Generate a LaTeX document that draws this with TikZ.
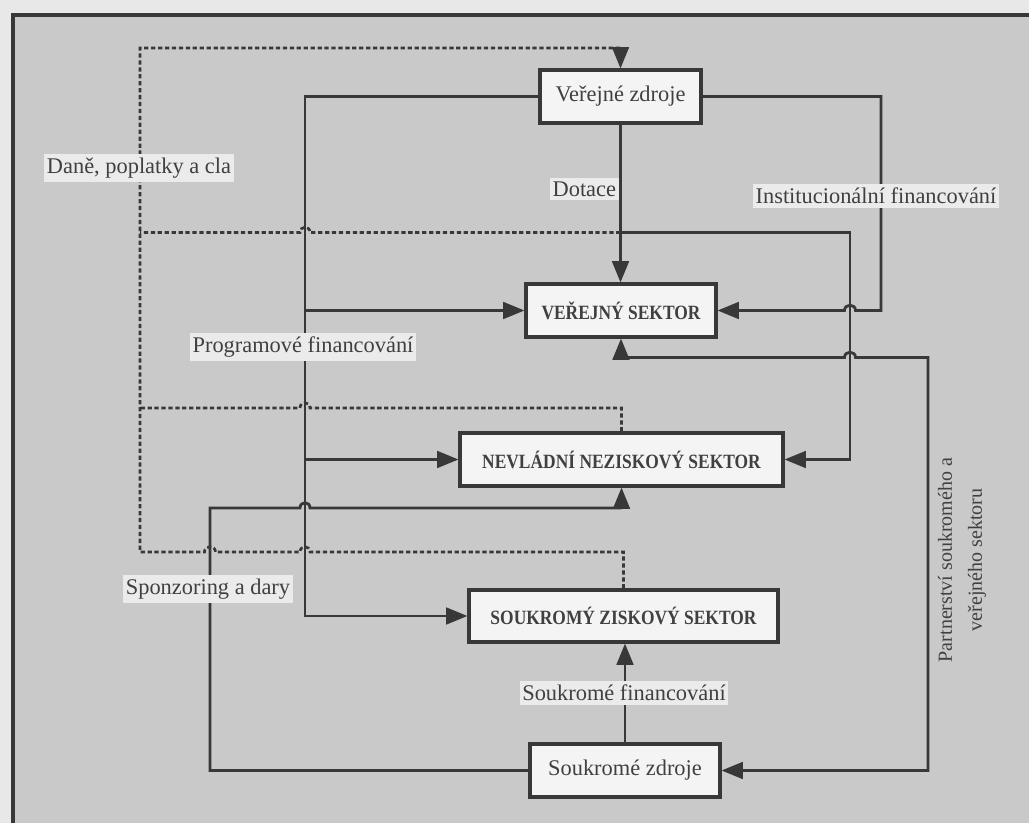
\documentclass[tikz,border=0pt]{standalone}
\usepackage{fontspec}
\setmainfont{Liberation Serif}
\newfontfamily\bcond[FakeStretch=0.86]{Liberation Serif Bold}
\usetikzlibrary{arrows.meta}
\definecolor{pagebg}{HTML}{C9C9C9}
\definecolor{outerbg}{HTML}{E8E8E8}
\definecolor{linec}{HTML}{383838}
\definecolor{boxbg}{HTML}{F4F4F4}
\definecolor{labbg}{HTML}{EBEBEB}
\definecolor{txt}{HTML}{404040}
\begin{document}
\begin{tikzpicture}[x=0.75pt,y=-0.75pt,
  ln/.style={draw=linec, line width=2.1pt},
  arr/.style={ln,-{Triangle[length=16pt,width=12.5pt]}},
  darr/.style={ln,{Triangle[length=16pt,width=12.5pt]}-{Triangle[length=16pt,width=12.5pt]}},
  dsh/.style={draw=linec, line width=2pt, dash pattern=on 3.2pt off 2pt},
  box/.style={draw=linec, line width=2.3pt, fill=boxbg, inner sep=0pt, text=txt, font=\fontsize{16.8}{19}\selectfont},
  bbox/.style={box, font=\fontsize{15.2}{17}\bcond},
  lab/.style={fill=labbg, text=txt, inner xsep=2pt, inner ysep=3pt, font=\fontsize{16.8}{19}\selectfont}]
\useasboundingbox (0,0) rectangle (1029,823);
\fill[outerbg] (0,0) rectangle (1029,823);
\fill[pagebg] (13,15) rectangle (1029,823);
\draw[linec, line width=2.3pt] (13,823) -- (13,15) -- (1029,15);

% boxes
\node[box, minimum width=161*0.75pt, minimum height=53*0.75pt] (vz) at (620.5,96.5) {Veřejné zdroje};
\node[bbox, minimum width=190*0.75pt, minimum height=53*0.75pt] (vs) at (621,310.5) {VEŘEJNÝ SEKTOR};
\node[bbox, minimum width=323*0.75pt, minimum height=53*0.75pt] (nns) at (621.5,459.5) {NEVLÁDNÍ NEZISKOVÝ SEKTOR};
\node[bbox, minimum width=309*0.75pt, minimum height=52*0.75pt] (szs) at (623.5,616) {SOUKROMÝ ZISKOVÝ SEKTOR};
\node[box, minimum width=190*0.75pt, minimum height=53*0.75pt] (sz) at (625,770.5) {Soukromé zdroje};

% junction coordinates
\coordinate (jd) at (620.5,232.5);
\coordinate (jp1) at (305,310.5);
\coordinate (jp2) at (305,459.5);

% dashed: taxes
\draw[dsh,-{Triangle[length=16pt,width=12.5pt]}] (szs.north) |- (310,552)
  .. controls (310,545) and (300,545) .. (300,552) -- (215.5,552)
  .. controls (215.5,545) and (204.5,545) .. (204.5,552) -- (140,552)
  -- (140,48) -| (vz.north);
\draw[dsh] (nns.north) |- (310,408)
  .. controls (310,401) and (300,401) .. (300,408) -- (140,408);
\draw[dsh] (jd) -- (310,232.5)
  .. controls (310,225.5) and (300,225.5) .. (300,232.5) -- (140,232.5);

% Dotace
\draw[arr] (vz.south) -- (vz.south |- vs.north);
\draw[arr] (jd) -- (850,232.5) |- (nns.east);

% Institucionalni
\draw[arr] (vz.east) -- (881,96.5) -- (881,310.5) -- (855.5,310.5)
  .. controls (855.5,303.5) and (844.5,303.5) .. (844.5,310.5) -- (vs.east);

% Partnerstvi
\draw[darr] (vs.south) |- (844.5,357.5)
  .. controls (844.5,350.5) and (855.5,350.5) .. (855.5,357.5) -- (928,357.5) |- (sz.east);

% Programove
\draw[arr] (vz.west) -- (305,96.5) |- (szs.west);
\draw[arr] (jp1) -- (vs.west);
\draw[arr] (jp2) -- (nns.west);

% Sponzoring
\draw[arr] (sz.west) -- (210,770.5) -- (210,508) -- (300,508)
  .. controls (300,501) and (310,501) .. (310,508) -| (nns.south);

% Soukrome financovani
\draw[arr] (sz.north) -- (sz.north |- szs.south);

% labels
\node[lab] (l1) at (139,168) {Daně, poplatky a cla};
\node[lab, anchor=east] (l2) at (619,189) {Dotace};
\node[lab] (l3) at (876,196) {Institucionální financování};
\node[lab] (l4) at (303,347) {Programové financování};
\node[lab] (l5) at (208,589) {Sponzoring a dary};
\node[lab] (l6) at (624,693) {Soukromé financování};
\node[rotate=90, text=txt, align=center, font=\fontsize{15}{22.5}\selectfont] (l7) at (962,560) {Partnerství soukromého a\\veřejného sektoru};
\end{tikzpicture}
\end{document}
